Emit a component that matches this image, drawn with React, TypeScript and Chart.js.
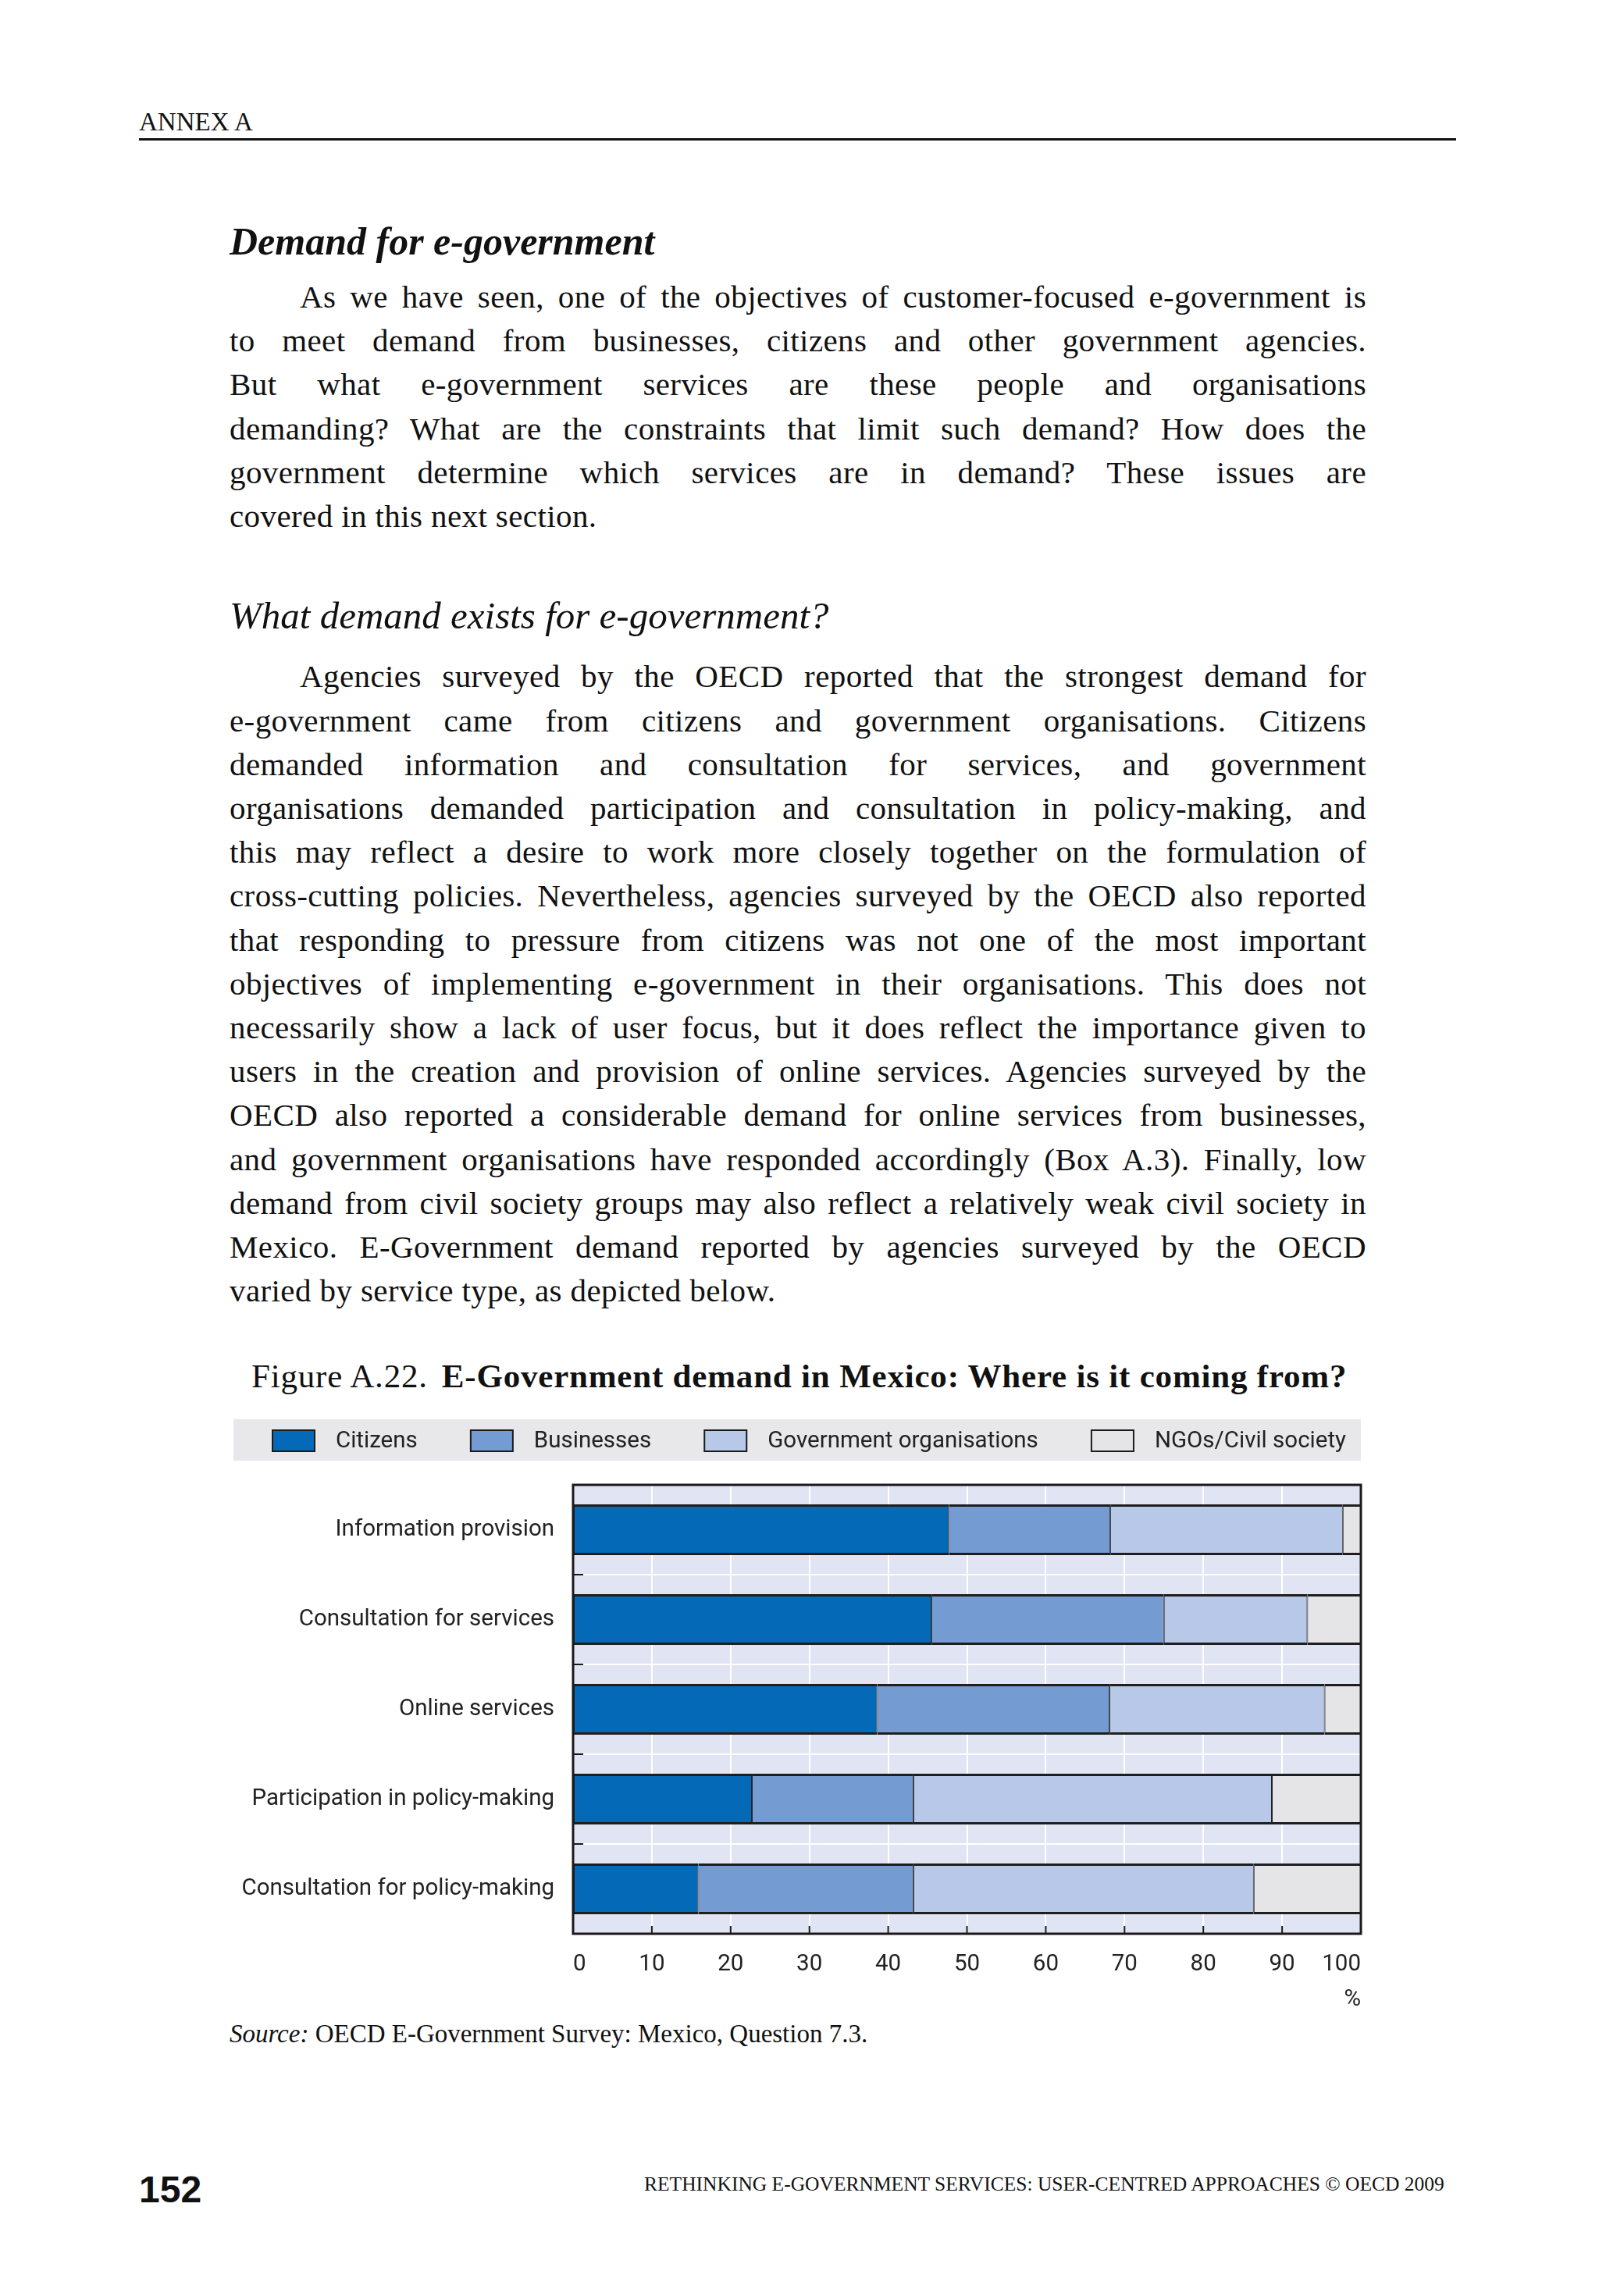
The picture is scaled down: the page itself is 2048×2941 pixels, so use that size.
import React, { useEffect, useRef } from "react";
import { Chart, registerables } from "chart.js";

Chart.register(...registerables);

// ---------- chart data ----------
const categories = [
  "Information provision",
  "Consultation for services",
  "Online services",
  "Participation in policy-making",
  "Consultation for policy-making",
];
const seriesNames = ["Citizens", "Businesses", "Government organisations", "NGOs/Civil society"];
const citizens = [47.7, 45.5, 38.6, 22.7, 15.9];
const businesses = [20.5, 29.5, 29.5, 20.5, 27.3];
const government = [29.5, 18.2, 27.3, 45.5, 43.2];
const ngos = [2.3, 6.8, 4.6, 11.3, 13.6];
const seriesColors = ["#0469B6", "#749BD2", "#B7C8E8", "#E5E5E8"];
const xMin = 0;
const xMax = 100;
const xStep = 10;
const xTitle = "%";

// ---------- page text ----------
const para1 = [
  "As we have seen, one of the objectives of customer-focused e-government is",
  "to meet demand from businesses, citizens and other government agencies.",
  "But what e-government services are these people and organisations",
  "demanding? What are the constraints that limit such demand? How does the",
  "government determine which services are in demand? These issues are",
  "covered in this next section.",
];
const para2 = [
  "Agencies surveyed by the OECD reported that the strongest demand for",
  "e-government came from citizens and government organisations. Citizens",
  "demanded information and consultation for services, and government",
  "organisations demanded participation and consultation in policy-making, and",
  "this may reflect a desire to work more closely together on the formulation of",
  "cross-cutting policies. Nevertheless, agencies surveyed by the OECD also reported",
  "that responding to pressure from citizens was not one of the most important",
  "objectives of implementing e-government in their organisations. This does not",
  "necessarily show a lack of user focus, but it does reflect the importance given to",
  "users in the creation and provision of online services. Agencies surveyed by the",
  "OECD also reported a considerable demand for online services from businesses,",
  "and government organisations have responded accordingly (Box A.3). Finally, low",
  "demand from civil society groups may also reflect a relatively weak civil society in",
  "Mexico. E-Government demand reported by agencies surveyed by the OECD",
  "varied by service type, as depicted below.",
];

const SERIF = "'Liberation Serif', 'DejaVu Serif', serif";
const SANS_N = "Roboto, 'Liberation Sans', sans-serif";
const LINE = 56.2;
const TEXT_LEFT = 294;
const TEXT_W = 1456;

// chart placement on page
const C_LEFT = 299;
const C_TOP = 1818;
const PAD_RIGHT = 24;
const C_W = 1444 + PAD_RIGHT;
const C_H = 761;
const LEGEND_H = 53;
const TOP_PAD = 84;
const Y_AXIS_W = 435;
const X_AXIS_H = 102;
const FONT_SIZE = 29.5;

function Para({ lines, firstCenter }: { lines: string[]; firstCenter: number }) {
  return (
    <>
      {lines.map((t, i) => {
        const last = i === lines.length - 1;
        const indent = i === 0 ? 90 : 0;
        return (
          <div
            key={i}
            style={{
              position: "absolute",
              left: TEXT_LEFT + indent,
              width: TEXT_W - indent,
              top: firstCenter + i * LINE - LINE / 2,
              height: LINE,
              lineHeight: LINE + "px",
              fontSize: 41,
              letterSpacing: "0.4px",
              fontFamily: SERIF,
              color: "#111",
              textAlign: last ? "left" : "justify",
              textAlignLast: last ? "left" : "justify",
            } as React.CSSProperties}
          >
            {t}
          </div>
        );
      })}
    </>
  );
}

function ChartBox() {
  const ref = useRef<HTMLCanvasElement | null>(null);
  useEffect(() => {
    const canvas = ref.current;
    if (!canvas) return;

    const decor = {
      id: "decor",
      beforeDraw(chart: any) {
        const { ctx, chartArea: a } = chart;
        ctx.save();
        ctx.fillStyle = "#E1E4F3";
        ctx.fillRect(a.left, a.top, a.right - a.left, a.bottom - a.top);
        ctx.restore();
      },
      afterDatasetsDraw(chart: any) {
        const { ctx, chartArea: a } = chart;
        const xs = chart.scales.x;
        const ys = chart.scales.y;
        ctx.save();
        ctx.strokeStyle = "#1a1a1a";
        ctx.lineWidth = 2;
        for (let i = 0; i < categories.length - 1; i++) {
          const yb = (ys.getPixelForTick(i) + ys.getPixelForTick(i + 1)) / 2;
          ctx.beginPath();
          ctx.moveTo(a.left, yb);
          ctx.lineTo(a.left + 13, yb);
          ctx.stroke();
        }
        for (let v = xMin + xStep; v < xMax; v += xStep) {
          const xp = xs.getPixelForValue(v);
          ctx.beginPath();
          ctx.moveTo(xp, a.bottom);
          ctx.lineTo(xp, a.bottom - 10);
          ctx.stroke();
        }
        ctx.lineWidth = 3;
        ctx.strokeRect(a.left, a.top, a.right - a.left, a.bottom - a.top);
        ctx.restore();
      },
      afterDraw(chart: any) {
        const { ctx } = chart;
        const a = chart.chartArea;
        ctx.save();
        ctx.fillStyle = "#E8E8EB";
        ctx.fillRect(0, 0, a.right, LEGEND_H);
        ctx.font = `${FONT_SIZE}px ${SANS_N}`;
        ctx.textBaseline = "middle";
        ctx.textAlign = "left";
        const boxW = 54;
        const boxH = 27;
        const boxGap = 27;
        const startX = 50;
        const endX = 1425;
        const ds = chart.data.datasets;
        const widths = ds.map((d: any) => boxW + boxGap + ctx.measureText(d.label).width);
        const total = widths.reduce((s: number, w: number) => s + w, 0);
        const gap = (endX - startX - total) / (ds.length - 1);
        let x = startX;
        const boxTop = 14;
        ds.forEach((d: any, i: number) => {
          ctx.fillStyle = d.backgroundColor;
          ctx.fillRect(x, boxTop, boxW, boxH);
          ctx.strokeStyle = "#1a1a1a";
          ctx.lineWidth = 2;
          ctx.strokeRect(x, boxTop, boxW, boxH);
          ctx.fillStyle = "#222";
          ctx.fillText(d.label, x + boxW + boxGap, boxTop + boxH / 2 + 1);
          x += widths[i] + gap;
        });
        ctx.restore();
      },
    };

    const values = [citizens, businesses, government, ngos];
    const chart = new Chart(canvas, {
      type: "bar",
      data: {
        labels: categories,
        datasets: seriesNames.map((name, i) => ({
          label: name,
          data: values[i],
          backgroundColor: seriesColors[i],
          borderColor: "#1e1e1e",
          borderWidth: { top: 3, bottom: 3, left: 1, right: 1 },
          borderSkipped: false,
          barPercentage: 0.565,
          categoryPercentage: 1,
        })),
      },
      options: {
        indexAxis: "y",
        animation: false,
        responsive: false,
        devicePixelRatio: 1,
        layout: { padding: { top: TOP_PAD, right: PAD_RIGHT, left: 0, bottom: 0 } },
        plugins: {
          legend: { display: false },
          tooltip: { enabled: false },
        },
        scales: {
          x: {
            stacked: true,
            min: xMin,
            max: xMax,
            grid: { color: "#ffffff", lineWidth: 2, drawTicks: false },
            border: { display: false },
            ticks: {
              stepSize: xStep,
              align: "inner",
              padding: 22,
              color: "#222",
              font: { size: FONT_SIZE, family: SANS_N },
            },
            title: {
              display: true,
              text: xTitle,
              align: "end",
              color: "#222",
              padding: { top: 4, bottom: 0 },
              font: { size: FONT_SIZE, family: SANS_N },
            },
            afterFit(scale: any) {
              scale.height = X_AXIS_H;
            },
          },
          y: {
            stacked: true,
            grid: { color: "#ffffff", lineWidth: 2, drawTicks: false, offset: true },
            border: { display: false },
            ticks: {
              padding: 24,
              color: "#222",
              font: { size: FONT_SIZE, family: SANS_N },
            },
            afterFit(scale: any) {
              scale.width = Y_AXIS_W;
            },
          },
        },
      },
      plugins: [decor],
    } as any);
    return () => chart.destroy();
  }, []);
  return (
    <div style={{ position: "absolute", left: C_LEFT, top: C_TOP, width: C_W, height: C_H }}>
      <canvas ref={ref} width={C_W} height={C_H} style={{ width: C_W, height: C_H, display: "block" }} />
    </div>
  );
}

export default function App() {
  const abs = (top: number, left: number, extra: React.CSSProperties = {}): React.CSSProperties => ({
    position: "absolute",
    top,
    left,
    whiteSpace: "nowrap",
    color: "#111",
    ...extra,
  });
  return (
    <div
      style={{
        position: "absolute",
        left: 0,
        top: 0,
        width: 2048,
        height: 2941,
        background: "#ffffff",
        overflow: "hidden",
      }}
    >
      <div style={abs(156 - 18, 178, { fontFamily: SERIF, fontSize: 33, lineHeight: "36px" })}>ANNEX A</div>
      <div style={{ position: "absolute", left: 178, top: 177, width: 1687, height: 3, background: "#111" }} />

      <div
        style={abs(309 - 30, 294, {
          fontFamily: SERIF,
          fontSize: 50,
          lineHeight: "60px",
          fontWeight: "bold",
          fontStyle: "italic",
        })}
      >
        Demand for e-government
      </div>

      <Para lines={para1} firstCenter={380} />

      <div style={abs(789 - 30, 294, { fontFamily: SERIF, fontSize: 49, lineHeight: "60px", fontStyle: "italic" })}>
        What demand exists for e-government?
      </div>

      <Para lines={para2} firstCenter={866.5} />

      <div style={abs(1763 - 28, 322, { fontFamily: SERIF, fontSize: 43, lineHeight: "56px", letterSpacing: "0.8px" })}>
        Figure A.22.
        <span style={{ fontWeight: "bold", marginLeft: 18 }}>E-Government demand in Mexico: Where is it coming from?</span>
      </div>

      <ChartBox />

      <div style={abs(2605 - 22, 294, { fontFamily: SERIF, fontSize: 33, lineHeight: "44px" })}>
        <span style={{ fontStyle: "italic" }}>Source:</span> OECD E-Government Survey: Mexico, Question 7.3.
      </div>

      <div style={abs(2805 - 24, 178, { fontFamily: "'Liberation Sans', sans-serif", fontWeight: "bold", fontSize: 48, lineHeight: "48px" })}>
        152
      </div>
      <div style={abs(2798 - 15, 825, { fontFamily: SERIF, fontSize: 25.5, lineHeight: "30px" })}>
        RETHINKING E-GOVERNMENT SERVICES: USER-CENTRED APPROACHES © OECD 2009
      </div>
    </div>
  );
}
